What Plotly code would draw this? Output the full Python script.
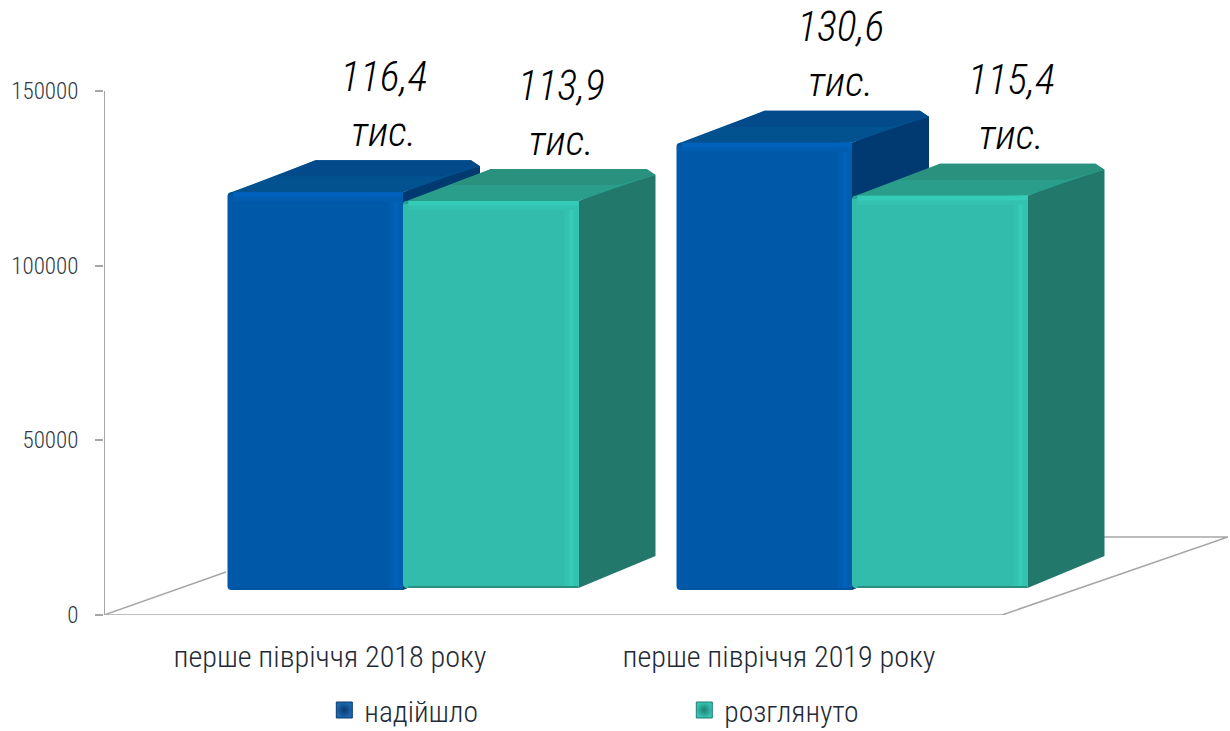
import plotly.graph_objects as go

categories = ["перше півріччя 2018 року", "перше півріччя 2019 року"]
series_names = ["надійшло", "розглянуто"]
received = [116400, 130600]
reviewed = [113900, 115400]
value_labels_received = ["116,4", "130,6"]
value_labels_reviewed = ["113,9", "115,4"]
unit_label = "тис."
y_ticks = [0, 50000, 100000, 150000]

FONT = "'Roboto Condensed', 'Roboto', sans-serif"
PX_X = 449.0           # pixels per category
PX_Y = 3.493 / 1000    # pixels per value unit
W = 175.5 / PX_X
DX_R = 77 / PX_X
DX_L = 88 / PX_X
DY = 32 / PX_Y
LIFT = 4600            # perspective lift of bar tops
BASES = [(615 - 590) / PX_Y, (615 - 588) / PX_Y]
XR = (-299 / PX_X, 825 / PX_X)
YTOP = 615 / PX_Y


def poly(xs, ys, color, axes):
    return go.Scatter(x=xs + xs[:1], y=ys + ys[:1], mode="lines", fill="toself",
                      fillcolor=color, line=dict(width=0), hoverinfo="skip",
                      showlegend=False, xaxis=axes[0], yaxis=axes[1])


def faces(xl, value, base, c, axes):
    xr = xl + W
    top = value + LIFT
    strip = 9 / PX_Y
    rx, ry = 9 / PX_X, 3 / PX_Y
    crn = top + DY
    out = [
        poly([xr, xr + DX_R, xr + DX_R, xr + DX_R - rx * 0.8, xr],
             [base, base + DY, crn - 2 * ry, crn - ry, top], c["side"], axes),
        poly([xl, xl + 0.4 * rx, xl + DX_L, xr + DX_R - rx, xr + DX_R, xr + DX_R * .65, xr],
             [top - ry, top, crn, crn, crn - 2 * ry, top + DY * .55, top], c["top"], axes),
        poly([xl + DX_L * .55, xl + DX_L, xr + DX_R - rx, xr + DX_R, xr + DX_R * .5],
             [top + DY * .5, crn, crn, crn - 2 * ry, top + DY * .5], c["top2"], axes),
    ]
    for w_px, color in ((14, c["hi1"]), (9, c["hi2"]), (5, c["hi1"])):
        s = w_px / PX_X
        out.append(poly([xr - s, xr, xr, xr - s], [base + 2 / PX_Y, base + 2 / PX_Y, top, top], color, axes))
    out.append(poly([xl + 0.012, xr, xr, xl + 0.012], [top - strip, top - strip, top, top], c["hi1"], axes))
    out.append(poly([xl + 0.012, xr, xr, xl + 0.012], [top - strip / 2, top - strip / 2, top, top], c["hi2"], axes))
    out.append(poly([xl + 0.012, xr, xr, xl + 0.012], [base, base, base + 2 / PX_Y, base + 2 / PX_Y], c["low"], axes))
    return out


blue = dict(front="#0059A8", hi1="#005DB0", hi2="#0062BA", top="#02528F", top2="#024A8A", side="#003A70",
            low="#0055A0", mark="#1C68B0", edge="#0A3A70")
teal = dict(front="#32BCAB", hi1="#33C2B0", hi2="#34CBB8", top="#2A9E8B", top2="#2A917F", side="#21786B",
            low="#2A8E80", mark="#36C4B2", edge="#1F7F74")

fig = go.Figure()
ax0, ax1 = ("x", "y"), ("x2", "y2")

# y axis line, floor
grey = dict(color="#A6A6A6", width=1.5)
fig.add_trace(go.Scatter(x=[XR[0], XR[0]], y=[0, y_ticks[-1]], mode="lines", line=dict(color="#A6A6A6", width=2),
                         cliponaxis=False, hoverinfo="skip", showlegend=False))
xf0, xf1 = XR[0], (1002 - 403) / PX_X
fx = [xf0, xf1, XR[1], (1104 - 403) / PX_X]
fy = [0, 0, (615 - 537) / PX_Y, (615 - 537) / PX_Y]
fig.add_trace(go.Scatter(x=fx, y=fy, mode="lines", line=grey, cliponaxis=False, hoverinfo="skip", showlegend=False))
fig.add_trace(go.Scatter(x=[xf0, (226 - 403) / PX_X], y=[0, (615 - 572) / PX_Y], mode="lines",
                         line=grey, hoverinfo="skip", showlegend=False))

x_group = [0, 1]
fig.add_trace(go.Bar(x=x_group, y=[v + LIFT - BASES[0] for v in received], base=BASES[0],
                     width=W, offset=-W, name=series_names[0], showlegend=False,
                     marker=dict(color=blue["front"], line_width=0), xaxis="x", yaxis="y"))
for i, v in enumerate(received):
    for t in faces(x_group[i] - W, v, BASES[0], blue, ax0):
        fig.add_trace(t)

fig.add_trace(go.Bar(x=x_group, y=[v + LIFT - BASES[1] for v in reviewed], base=BASES[1],
                     width=W, offset=0, name=series_names[1], showlegend=False,
                     marker=dict(color=teal["front"], line_width=0), xaxis="x2", yaxis="y2"))
for i, v in enumerate(reviewed):
    for t in faces(x_group[i], v, BASES[1], teal, ax1):
        fig.add_trace(t)

# legend entries
for name, c in zip(series_names, (blue, teal)):
    fig.add_trace(go.Scatter(x=[None], y=[None], mode="markers", name=name,
                             marker=dict(symbol="square", size=17, color=c["mark"],
                                         gradient=dict(type="radial", color=c["edge"]),
                                         line=dict(color=c["edge"], width=1))))

# labels
lx = [x_group[0] - W / 2 + 68.5 / PX_X, x_group[0] + W / 2 + 70.5 / PX_X,
      x_group[1] - W / 2 + 76.5 / PX_X, x_group[1] + W / 2 + 71.5 / PX_X]
vals = [received[0], reviewed[0], received[1], reviewed[1]]
txts = [value_labels_received[0], value_labels_reviewed[0], value_labels_received[1], value_labels_reviewed[1]]
lfont = dict(family=FONT, size=42, color="#000000", style="italic", weight=350)
fig.add_trace(go.Scatter(x=lx, y=[v + LIFT + 57 / PX_Y for v in vals], mode="text", text=[unit_label] * 4,
                         textposition="middle center", textfont=lfont,
                         cliponaxis=False, hoverinfo="skip", showlegend=False, xaxis="x2", yaxis="y2"))
fig.add_trace(go.Scatter(x=lx, y=[v + LIFT + 112 / PX_Y for v in vals], mode="text", text=txts,
                         textposition="middle center", textfont=lfont,
                         cliponaxis=False, hoverinfo="skip", showlegend=False, xaxis="x2", yaxis="y2"))

fig.update_layout(
    width=1230, height=731, margin=dict(l=104, r=2, t=0, b=116, pad=0, autoexpand=False),
    paper_bgcolor="white", plot_bgcolor="white", barmode="overlay", barcornerradius=4,
    font=dict(family=FONT, color="#1F2A36"),
    xaxis=dict(range=list(XR), tickmode="array", automargin=False,
               tickvals=[x - 73 / PX_X for x in x_group], ticktext=categories,
               showgrid=False, zeroline=False, showline=False, ticks="", ticklabelstandoff=21,
               tickfont=dict(size=30.2, color="#1F2A36", weight=300)),
    yaxis=dict(range=[0, YTOP], tickmode="array", tickvals=y_ticks, ticktext=[str(t) for t in y_ticks],
               automargin=False,
               showgrid=False, zeroline=False, showline=False,
               ticks="outside", ticklen=8, tickcolor="#A6A6A6", tickwidth=1.5, ticklabelstandoff=12,
               tickfont=dict(size=23, color="#2F3945", weight=300)),
    xaxis2=dict(range=list(XR), overlaying="x", visible=False),
    yaxis2=dict(range=[0, YTOP], overlaying="y", visible=False),
    legend=dict(orientation="h", x=0.196, xanchor="left", y=-0.155, yanchor="middle",
                entrywidth=315, entrywidthmode="pixels", font=dict(size=29.5, color="#1F2A36", weight=300),
                bgcolor="rgba(0,0,0,0)", itemsizing="trace"),
)

fig.write_html("out.html", config={"displayModeBar": False}, post_script="document.body.style.margin='0';")
